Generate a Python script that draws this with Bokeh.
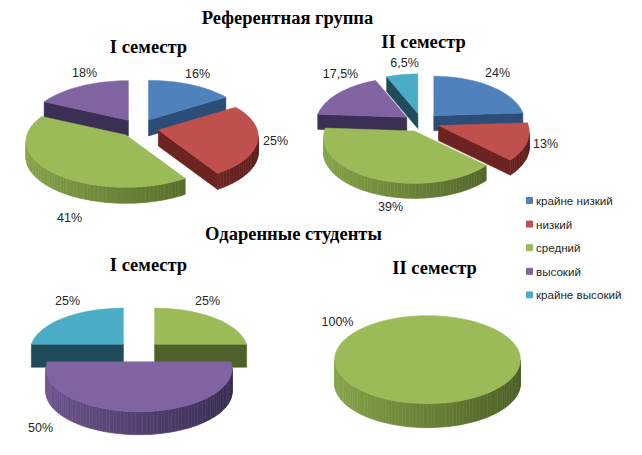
import math
from bokeh.plotting import figure
from bokeh.models import Range1d, ColumnDataSource
from bokeh.core.properties import value
from bokeh.embed import file_html
from bokeh.resources import INLINE

# ---------------- data ----------------
categories = ["крайне низкий", "низкий", "средний", "высокий", "крайне высокий"]
group_titles = ["Референтная группа", "Одаренные студенты"]
semester_titles = ["I семестр", "II семестр"]

ref_sem1_values = [16, 25, 41, 18, 0]
ref_sem2_values = [24, 13, 39, 17.5, 6.5]
gift_sem1_values = [0, 0, 25, 50, 25]
gift_sem2_values = [0, 0, 100, 0, 0]

ref_sem1_labels = ["16%", "25%", "41%", "18%", ""]
ref_sem2_labels = ["24%", "13%", "39%", "17,5%", "6,5%"]
gift_sem1_labels = ["", "", "25%", "50%", "25%"]
gift_sem2_labels = ["", "", "100%", "", ""]

# ---------------- styles ----------------
top_colors = ["#4f81bd", "#c0504d", "#9bbb59", "#8064a2", "#4bacc6"]
arc_light = ["#4272aa", "#a94441", "#87a64a", "#6e5690", "#3f9ab3"]
arc_dark = ["#263f60", "#5c1e1c", "#4a5d24", "#372b4f", "#1f5666"]
cut_colors = ["#2c4d78", "#6c2321", "#4e6128", "#3b2f54", "#1f4b5b"]

# pie layout (pixel space of the picture)
pies = [
    dict(values=ref_sem1_values, labels=ref_sem1_labels, cx=138.5, cy=127.5, rx=99, ry=46,
         depth=16, explode=0.2, persp=0.14,
         label_xy=[(197, 73), (275, 140), (69, 217), (84, 72), None]),
    dict(values=ref_sem2_values, labels=ref_sem2_labels, cx=421, cy=122, rx=90, ry=46,
         depth=15, explode=0.2, persp=0.14,
         label_xy=[(497, 72), (545, 143), (390, 206), (340, 73), (404, 62)]),
    dict(values=gift_sem1_values, labels=gift_sem1_labels, cx=138.5, cy=351, rx=92, ry=43,
         depth=23, explode=0.24, persp=0.16,
         label_xy=[None, None, (207, 300), (40, 427), (67, 300)]),
    dict(values=gift_sem2_values, labels=gift_sem2_labels, cx=427, cy=353, rx=92, ry=44,
         depth=24, explode=0.0, persp=0.14,
         label_xy=[None, None, (337, 321), None, None]),
]


def hex_to_rgb(h):
    h = h.lstrip("#")
    return tuple(int(h[i:i + 2], 16) for i in (0, 2, 4))


def mix(c1, c2, t):
    a, b = hex_to_rgb(c1), hex_to_rgb(c2)
    return "#%02x%02x%02x" % tuple(int(round(a[i] + (b[i] - a[i]) * t)) for i in range(3))


p = figure(width=626, height=439, output_backend="svg", toolbar_location=None,
           x_range=Range1d(0, 626), y_range=Range1d(439, 0),
           x_axis_location=None, y_axis_location=None, min_border=0)
p.grid.visible = False
p.outline_line_color = None
p.background_fill_color = "white"

for pie in pies:
    vals = pie["values"]
    total = float(sum(vals))
    cx, cy, rx, ry = pie["cx"], pie["cy"], pie["rx"], pie["ry"]
    d, f, P = pie["depth"], pie["explode"], pie["persp"]
    slices = []
    start = 0.0
    for i, v in enumerate(vals):
        if v <= 0:
            continue
        span = 2 * math.pi * v / total
        slices.append((i, start, start + span))
        start += span
    # painter's order: back slices first
    slices.sort(key=lambda s: -math.cos((s[1] + s[2]) / 2))
    for i, a0, a1 in slices:
        mid = (a0 + a1) / 2
        ox = f * rx * math.sin(mid)
        oy = -f * ry * math.cos(mid)

        def pt(th):
            s = 1 - P * math.cos(th)
            return (cx + ox + rx * s * math.sin(th), cy + oy - ry * s * math.cos(th))

        n = max(2, int(math.degrees(a1 - a0) / 2))
        angs = [a0 + (a1 - a0) * k / n for k in range(n + 1)]
        arc = [pt(a) for a in angs]
        full = abs((a1 - a0) - 2 * math.pi) < 1e-9
        if full:
            poly = arc
            edges = [(arc[k], arc[k + 1], "arc", (angs[k] + angs[k + 1]) / 2) for k in range(n)]
        else:
            c = (cx + ox, cy + oy)
            poly = [c] + arc
            edges = [(c, arc[0], "cut", None)]
            edges += [(arc[k], arc[k + 1], "arc", (angs[k] + angs[k + 1]) / 2) for k in range(n)]
            edges += [(arc[-1], c, "cut", None)]
        side_xs, side_ys, side_col = [], [], []
        for (x0, y0), (x1, y1), kind, th in edges:
            if x1 - x0 < -1e-9:
                side_xs.append([x0, x1, x1, x0])
                side_ys.append([y0, y1, y1 + d, y0 + d])
                if kind == "cut":
                    side_col.append(cut_colors[i])
                else:
                    t = (math.sin(th) + 1) / 2
                    side_col.append(mix(arc_light[i], arc_dark[i], t))
        if side_xs:
            p.patches(xs=side_xs, ys=side_ys, fill_color=side_col, line_color=side_col,
                      line_width=0.6)
        p.patch(x=[q[0] for q in poly], y=[q[1] for q in poly], fill_color=top_colors[i],
                line_color=top_colors[i], line_width=0.5)

    lx, ly, lt = [], [], []
    for i, lab in enumerate(pie["labels"]):
        if lab and pie["label_xy"][i] is not None:
            lx.append(pie["label_xy"][i][0])
            ly.append(pie["label_xy"][i][1])
            lt.append(lab)
    p.text(x=lx, y=ly, text=lt, text_font=value("Liberation Sans"), text_font_size="12.5px",
           text_color="#262626", text_align="center", text_baseline="middle")

# titles
title_x = [287, 293]
title_y = [17, 233]
p.text(x=title_x, y=title_y, text=group_titles, text_font=value("Liberation Serif"),
       text_font_style="bold", text_font_size="18.5px", text_color="#000000",
       text_align="center", text_baseline="middle")
sub_x = [148, 423, 148, 434]
sub_y = [46, 41, 264, 267]
p.text(x=sub_x, y=sub_y, text=semester_titles * 2, text_font=value("Liberation Serif"),
       text_font_style="bold", text_font_size="18.5px", text_color="#000000",
       text_align="center", text_baseline="middle")

# legend
leg_y = [200 + 23.6 * k for k in range(len(categories))]
leg_src = ColumnDataSource(dict(x=[529] * len(categories), y=leg_y, c=top_colors,
                                t=categories, tx=[535.5] * len(categories)))
p.scatter(x="x", y="y", source=leg_src, marker="square", size=6, fill_color="c", line_color="c")
p.text(x="tx", y="y", text="t", source=leg_src, text_font=value("Liberation Sans"),
       text_font_size="11.6px", text_color="#262626", text_align="left", text_baseline="middle")

open("out.html", "w").write(file_html(p, INLINE))
